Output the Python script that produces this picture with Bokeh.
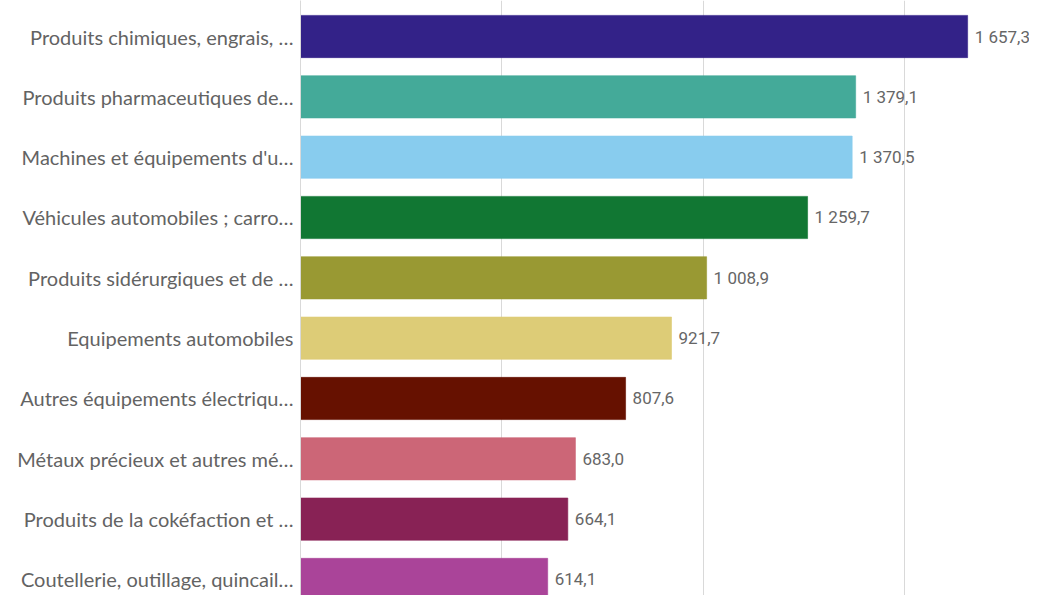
from bokeh.plotting import figure
from bokeh.models import Range1d, ColumnDataSource, FixedTicker
from bokeh.core.properties import value
from bokeh.embed import file_html
from bokeh.resources import INLINE

categories = [
    "Produits chimiques, engrais, …",
    "Produits pharmaceutiques de…",
    "Machines et équipements d'u…",
    "Véhicules automobiles ; carro…",
    "Produits sidérurgiques et de …",
    "Equipements automobiles",
    "Autres équipements électriqu…",
    "Métaux précieux et autres mé…",
    "Produits de la cokéfaction et …",
    "Coutellerie, outillage, quincail…",
]
values = [1657.3, 1379.1, 1370.5, 1259.7, 1008.9, 921.7, 807.6, 683.0, 664.1, 614.1]
colors = ["#332288", "#44aa99", "#88ccee", "#117733", "#999933",
          "#ddcc77", "#661100", "#cc6677", "#882255", "#aa4499"]
grid_ticks = [0, 500, 1000, 1500]


def fmt(v):
    s = f"{v:,.1f}"
    return s.replace(",", " ").replace(".", ",")


pos = list(range(len(categories)))
src = ColumnDataSource(dict(
    y=pos, v=values, c=colors, lab=[fmt(v) for v in values]
))

p = figure(width=1029, height=595, output_backend="svg", toolbar_location=None,
           x_range=Range1d(0, 1811), y_range=Range1d(9.266, -0.597),
           min_border_left=300, min_border_right=0, min_border_top=0,
           min_border_bottom=0)
p.outline_line_color = None

p.hbar(y="y", right="v", left=0, height=0.7, fill_color="c",
       line_color="c", line_alpha=0.6, source=src)
p.text(x="v", y="y", text="lab", x_offset=7, text_baseline="middle",
       text_align="left", text_font=value("Roboto"), text_font_size="17px",
       text_color="#666666", source=src)

p.xaxis.visible = False
p.xaxis.ticker = FixedTicker(ticks=grid_ticks)
p.xgrid.ticker = FixedTicker(ticks=grid_ticks)
p.xgrid.grid_line_color = "#d9d9d9"
p.xgrid.grid_line_width = 1
p.ygrid.grid_line_color = None

ax = p.yaxis[0]
ax.ticker = FixedTicker(ticks=pos)
ax.major_label_overrides = {i: c for i, c in enumerate(categories)}
ax.major_tick_line_color = None
ax.minor_tick_line_color = None
ax.axis_line_color = "#d9d9d9"
ax.major_label_text_font = "Lato"
ax.major_label_text_font_size = "20px"
ax.major_label_text_color = "#636363"
ax.major_label_standoff = 1

open("out.html", "w").write(file_html(p, INLINE))
